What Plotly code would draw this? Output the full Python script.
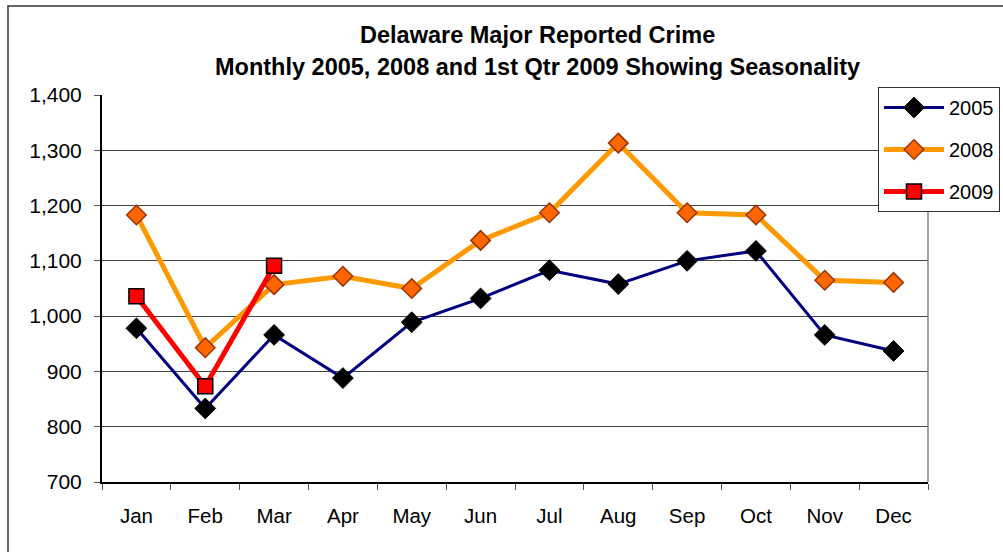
import plotly.graph_objects as go

months = ["Jan", "Feb", "Mar", "Apr", "May", "Jun", "Jul", "Aug", "Sep", "Oct", "Nov", "Dec"]
y2005 = [978, 833, 966, 888, 989, 1032, 1083, 1058, 1100, 1118, 966, 937]
y2008 = [1183, 943, 1057, 1072, 1050, 1137, 1187, 1313, 1187, 1183, 1065, 1061]
months2009 = ["Jan", "Feb", "Mar"]
y2009 = [1036, 873, 1091]
title1 = "Delaware Major Reported Crime"
title2 = "Monthly 2005, 2008 and 1st Qtr 2009 Showing Seasonality"

FONT = "Liberation Sans, Arial, sans-serif"

fig = go.Figure()
fig.add_trace(go.Scatter(
    x=months, y=y2005, name="2005", mode="lines+markers", legendgroup="a",
    line=dict(color="#000080", width=3),
    marker=dict(symbol="diamond", size=16, color="#000000", line=dict(color="#000000", width=1)),
))
fig.add_trace(go.Scatter(
    x=months, y=y2008, name="2008", mode="lines+markers", legendgroup="b",
    line=dict(color="#FF9900", width=5),
    marker=dict(symbol="diamond", size=15, color="#FF6600", line=dict(color="#993300", width=1.5)),
))
fig.add_trace(go.Scatter(
    x=months2009, y=y2009, name="2009", mode="lines+markers", legendgroup="c",
    line=dict(color="#FF0000", width=5),
    marker=dict(symbol="square", size=15, color="#FF0000", line=dict(color="#000000", width=1.5)),
))

L, R, T, B = 102, 75, 95, 70
W, H = 1003, 552
pw, ph = W - L - R, H - T - B

def px_x(p):
    return (p - L) / pw

def px_y(p):
    return (H - B - p) / ph

fig.update_layout(
    width=W, height=H,
    margin=dict(l=L, r=R, t=T, b=B, autoexpand=False),
    paper_bgcolor="white", plot_bgcolor="white",
    font=dict(family=FONT, size=20, color="black"),
    showlegend=True,
    legend=dict(
        x=px_x(878), y=px_y(87), xanchor="left", yanchor="top",
        bgcolor="white", bordercolor="#333333", borderwidth=1,
        font=dict(family=FONT, size=20, color="black"),
        tracegroupgap=13, itemwidth=60,
    ),
    xaxis=dict(
        type="category", categoryorder="array", categoryarray=months,
        range=[-0.5, 11.5],
        showgrid=False, showline=True, linecolor="#000000", linewidth=2,
        ticks="outside", tickson="boundaries", ticklen=6, tickcolor="#555555",
        ticklabelstandoff=14,
        tickfont=dict(family=FONT, size=20.5), fixedrange=True,
    ),
    yaxis=dict(
        range=[700, 1400], tickvals=[700, 800, 900, 1000, 1100, 1200, 1300, 1400],
        tickformat=",d",
        showgrid=True, gridcolor="#444444", gridwidth=1,
        showline=True, linecolor="#000000", linewidth=2,
        ticks="outside", ticklen=6, tickcolor="#555555",
        ticklabelstandoff=8,
        tickfont=dict(family=FONT, size=21), zeroline=False, fixedrange=True,
    ),
    annotations=[
        dict(text="<b>%s</b>" % title1, xref="paper", yref="paper", x=px_x(537), y=px_y(35),
             xanchor="center", yanchor="middle", showarrow=False, font=dict(family=FONT, size=23.5)),
        dict(text="<b>%s</b>" % title2, xref="paper", yref="paper", x=px_x(537), y=px_y(67),
             xanchor="center", yanchor="middle", showarrow=False, font=dict(family=FONT, size=23.5)),
    ],
    shapes=[
        dict(type="line", xref="paper", yref="paper", x0=1, x1=1, y0=0, y1=1,
             line=dict(color="#808080", width=1.5)),
        dict(type="rect", xref="paper", yref="paper", x0=px_x(8), x1=px_x(1015),
             y0=px_y(6), y1=px_y(570), line=dict(color="#333333", width=1.5), layer="below"),
    ],
)

fig.write_html("out.html", config={"displayModeBar": False},
               post_script="document.body.style.margin='0';document.body.style.overflow='hidden';")
